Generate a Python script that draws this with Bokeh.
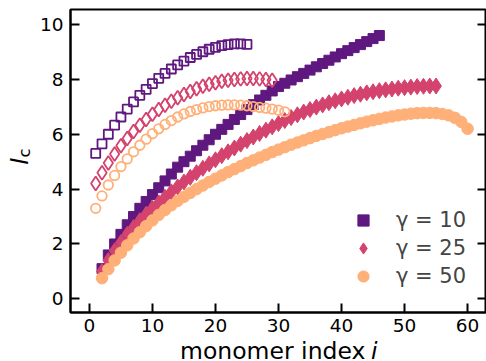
from bokeh.plotting import figure
from bokeh.models import Range1d, LinearAxis, FixedTicker, Legend, LegendItem
from bokeh.layouts import row, column
from bokeh.core.properties import value
from bokeh.embed import file_html
from bokeh.resources import INLINE
import math

# ---- data ----
filled_sq_i = list(range(2, 47))
filled_sq_l = [1.1, 1.6, 2.0, 2.35, 2.7, 3.0, 3.3, 3.55, 3.8,
               4.05, 4.3, 4.55, 4.8, 5.0, 5.2, 5.4, 5.6, 5.8, 6.0,
               6.18, 6.36, 6.54, 6.72, 6.9, 7.08, 7.25, 7.42, 7.58, 7.74,
               7.86, 7.98, 8.1, 8.22, 8.34, 8.46, 8.58, 8.7, 8.82, 8.94,
               9.05, 9.16, 9.27, 9.38, 9.49, 9.6]
filled_di_i = list(range(2, 56))
filled_di_l = [1.0, 1.4, 1.75, 2.05, 2.35, 2.6, 2.85, 3.08, 3.3,
               3.5, 3.7, 3.9, 4.08, 4.26, 4.43, 4.6, 4.76, 4.92, 5.07,
               5.22, 5.36, 5.5, 5.64, 5.77, 5.9, 6.03, 6.15, 6.27, 6.39,
               6.5, 6.61, 6.71, 6.81, 6.9, 6.99, 7.07, 7.15, 7.22, 7.29,
               7.35, 7.41, 7.46, 7.51, 7.55, 7.59, 7.62, 7.65, 7.68, 7.7,
               7.72, 7.74, 7.75, 7.76, 7.76]
filled_ci_i = list(range(2, 61))
filled_ci_l = [0.75, 1.08, 1.4, 1.68, 1.95, 2.2, 2.43, 2.65, 2.86,
               3.06, 3.24, 3.41, 3.57, 3.72, 3.86, 4.0, 4.13, 4.26, 4.38,
               4.5, 4.62, 4.73, 4.84, 4.95, 5.05, 5.15, 5.25, 5.35, 5.44,
               5.53, 5.62, 5.7, 5.78, 5.86, 5.94, 6.01, 6.08, 6.15, 6.22,
               6.28, 6.34, 6.4, 6.46, 6.51, 6.56, 6.61, 6.65, 6.69, 6.72,
               6.75, 6.77, 6.78, 6.78, 6.77, 6.74, 6.69, 6.6, 6.45, 6.2]
hollow_sq_i = list(range(1, 26))
hollow_sq_l = [5.3, 5.65, 6.0, 6.33, 6.63, 6.92, 7.18, 7.42, 7.64, 7.85,
               8.04, 8.22, 8.38, 8.53, 8.67, 8.8, 8.91, 9.01, 9.1, 9.17,
               9.23, 9.27, 9.3, 9.3, 9.28]
hollow_di_i = list(range(1, 30))
hollow_di_l = [4.2, 4.6, 4.95, 5.28, 5.58, 5.85, 6.1, 6.33, 6.54, 6.73,
               6.9, 7.06, 7.2, 7.33, 7.45, 7.56, 7.66, 7.75, 7.82, 7.88,
               7.93, 7.97, 8.0, 8.02, 8.03, 8.03, 8.02, 8.0, 7.97]
hollow_ci_i = list(range(1, 32))
hollow_ci_l = [3.3, 3.75, 4.15, 4.5, 4.82, 5.1, 5.36, 5.6, 5.82, 6.02,
               6.2, 6.36, 6.5, 6.63, 6.74, 6.83, 6.9, 6.96, 7.01, 7.04,
               7.06, 7.07, 7.07, 7.06, 7.04, 7.01, 6.98, 6.95, 6.92, 6.88,
               6.82]
legend_labels = ["γ = 10", "γ = 25", "γ = 50"]
x_ticks = [0, 10, 20, 30, 40, 50, 60]
y_ticks = [0, 2, 4, 6, 8, 10]
x_title = ["monomer index", "i"]
y_title = ["l", "c"]

C1, C2, C3 = "#5f187f", "#d3436e", "#feb078"
FONT = "DejaVu Sans"
YS_W = 36
XS_H = 30
XS_OVERLAP = 10

# ---- main plot ----
p = figure(width=486 - YS_W, height=341, output_backend="svg", toolbar_location=None,
           x_range=Range1d(-3, 63), y_range=Range1d(-0.5, 10.55),
           min_border_left=68 - YS_W, min_border_right=0, min_border_top=9, min_border_bottom=29)
p.grid.visible = False
p.outline_line_color = "black"
p.outline_line_width = 2
p.background_fill_color = "white"
p.border_fill_color = "white"

for ax, ticks, so in ((p.xaxis[0], x_ticks, 6), (p.yaxis[0], y_ticks, 7)):
    ax.ticker = FixedTicker(ticks=ticks)
    ax.major_tick_in = 9
    ax.major_tick_out = 0
    ax.major_tick_line_width = 2
    ax.minor_tick_line_color = None
    ax.axis_line_width = 2
    ax.major_label_text_font = FONT
    ax.major_label_text_font_size = "18.5px"
    ax.major_label_text_color = "black"
    ax.major_label_standoff = so

ry = LinearAxis(ticker=FixedTicker(ticks=y_ticks), major_tick_in=9, major_tick_out=0,
                major_tick_line_width=2, minor_tick_line_color=None, axis_line_width=2,
                major_label_text_font_size="1px", major_label_standoff=0,
                major_label_overrides={t: "" for t in y_ticks})
p.add_layout(ry, "right")

r1 = p.scatter(filled_sq_i, filled_sq_l, marker="square", size=10, color=C1)
r2 = p.scatter(filled_di_i, filled_di_l, marker="diamond", size=16, color=C2)
r3 = p.scatter(filled_ci_i, filled_ci_l, marker="circle", size=11.5, color=C3)
p.scatter(hollow_sq_i, hollow_sq_l, marker="square", size=9, fill_color=None, line_color=C1, line_width=1.8)
p.scatter(hollow_di_i, hollow_di_l, marker="diamond", size=14, fill_color=None, line_color=C2, line_width=1.8)
p.scatter(hollow_ci_i, hollow_ci_l, marker="circle", size=9.5, fill_color=None, line_color=C3, line_width=1.8)

legend = Legend(items=[LegendItem(label=legend_labels[0], renderers=[r1]),
                       LegendItem(label=legend_labels[1], renderers=[r2]),
                       LegendItem(label=legend_labels[2], renderers=[r3])],
                location=(279, 22), padding=0, margin=0, spacing=0,
                glyph_width=28, glyph_height=28, label_height=28, label_standoff=19,
                label_text_font=FONT, label_text_font_size="21px",
                border_line_color=None, background_fill_alpha=0)
p.add_layout(legend)


def text_strip(w, h, opaque=True):
    f = figure(width=w, height=h, output_backend="svg", toolbar_location=None,
               title_location=None,
               x_range=Range1d(0, w), y_range=Range1d(0, h),
               x_axis_location=None, y_axis_location=None,
               min_border_left=0, min_border_right=0, min_border_top=0, min_border_bottom=0)
    f.grid.visible = False
    f.outline_line_color = None
    if opaque:
        f.background_fill_color = "white"
        f.border_fill_color = "white"
    else:
        f.background_fill_color = None
        f.border_fill_color = None
    return f


# x-axis title strip (below the plot, its transparent top overlapping the plot's bottom border)
xs = text_strip(486 - YS_W, XS_H, opaque=False)
xs.margin = (-XS_OVERLAP, 0, 0, 0)
xs.text(x=[355 - YS_W], y=[10.5], text=[x_title[0]], text_align="right", text_baseline="alphabetic",
        text_font=value(FONT), text_font_size="23.5px", text_color="black")
xs.text(x=[361 - YS_W], y=[10.5], text=[x_title[1]], text_align="left", text_baseline="alphabetic",
        text_font=value(FONT), text_font_size="23.5px", text_font_style="italic", text_color="black")

# y-axis title strip (left of the plot)
ys = text_strip(YS_W, 361)
ys.text(x=[19], y=[200], text=[y_title[0]], angle=math.pi / 2, text_align="center",
        text_baseline="alphabetic", text_font=value(FONT), text_font_size="23.5px",
        text_font_style="italic", text_color="black")
ys.text(x=[23.5], y=[204], text=[y_title[1]], angle=math.pi / 2, text_align="left",
        text_baseline="alphabetic", text_font=value(FONT), text_font_size="16.5px",
        text_color="black")

layout = row(ys, column(p, xs, spacing=0), spacing=0)

open("out.html", "w").write(file_html(layout, INLINE))
